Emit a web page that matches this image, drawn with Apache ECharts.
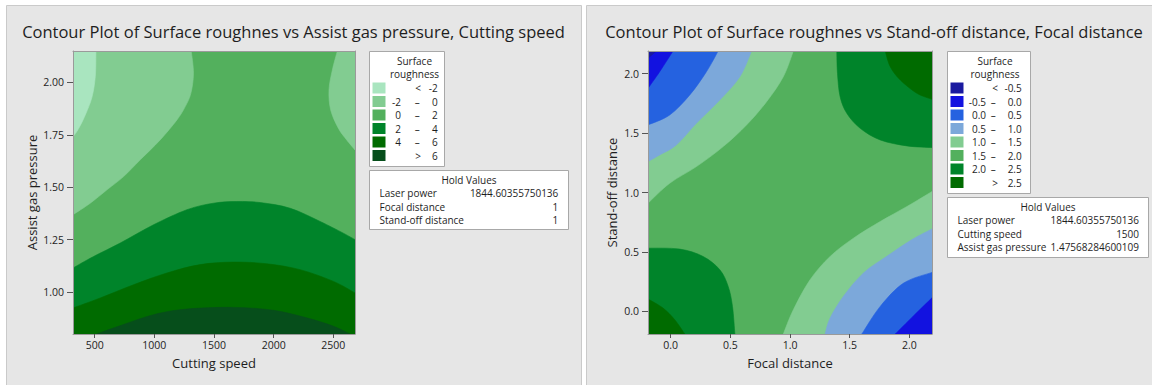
<!DOCTYPE html>
<html><head><meta charset="utf-8">
<script src="https://cdn.jsdelivr.net/npm/echarts@6/dist/echarts.min.js"></script>
<style>html,body{margin:0;padding:0;background:#fff}#c{width:1152px;height:385px}</style>
</head><body><div id="c"></div>
<script>
// ================= DATA =================
const leftXRange = [318, 2682];     // Cutting speed
const leftYRange = [0.80, 2.15];    // Assist gas pressure
const rightXRange = [-0.19, 2.19];  // Focal distance
const rightYRange = [-0.19, 2.19];  // Stand-off distance

const cuttingSpeedTicks = [500, 1000, 1500, 2000, 2500];
const assistGasTicks = [1.00, 1.25, 1.50, 1.75, 2.00];
const focalTicks = [0.0, 0.5, 1.0, 1.5, 2.0];
const standoffTicks = [0.0, 0.5, 1.0, 1.5, 2.0];

const leftLevels = [[null, -2], [-2, 0], [0, 2], [2, 4], [4, 6], [6, null]];
const rightLevels = [[null, -0.5], [-0.5, 0.0], [0.0, 0.5], [0.5, 1.0], [1.0, 1.5], [1.5, 2.0], [2.0, 2.5], [2.5, null]];

const leftHold = [['Laser power', '1844.60355750136'], ['Focal distance', '1'], ['Stand-off distance', '1']];
const rightHold = [['Laser power', '1844.60355750136'], ['Cutting speed', '1500'], ['Assist gas pressure', '1.47568284600109']];

// Left plot contour boundaries [cutting speed, assist gas pressure]
const L_m2_topLeft = [[510, 2.15], [505, 2.03], [477, 1.93], [421, 1.845], [365, 1.78], [318, 1.74]];
const L_0_topLeft = [[1309, 2.15], [1328, 2.044], [1306, 1.948], [1259, 1.885], [1189, 1.821], [1049, 1.726], [882, 1.631], [742, 1.551], [603, 1.488], [463, 1.424], [318, 1.369]];
const L_0_topRight = [[2534, 2.15], [2492, 2.059], [2464, 1.964], [2478, 1.869], [2542, 1.782], [2612, 1.726], [2682, 1.678]];
const L_2 = [[318, 1.115], [491, 1.170], [714, 1.234], [993, 1.321], [1273, 1.393], [1496, 1.424], [1691, 1.432], [1887, 1.427], [2138, 1.400], [2389, 1.337], [2584, 1.281], [2682, 1.250]];
const L_4 = [[318, 0.924], [547, 0.972], [826, 1.035], [1105, 1.091], [1384, 1.131], [1663, 1.143], [1942, 1.135], [2221, 1.107], [2501, 1.051], [2682, 0.996]];
const L_6 = [[519, 0.80], [686, 0.834], [993, 0.892], [1273, 0.919], [1663, 0.927], [1998, 0.913], [2277, 0.877], [2501, 0.837], [2640, 0.80]];

// Right plot contour boundaries [focal distance, stand-off distance]
const R_m05_tl = [[-0.12, 2.19], [-0.19, 2.128]];
const R_00_tl = [[0.02, 2.19], [-0.092, 2.016], [-0.19, 1.876]];
const R_05_tl = [[0.398, 2.19], [0.30, 2.016], [0.16, 1.820], [-0.008, 1.652], [-0.19, 1.568]];
const R_10_tl = [[0.678, 2.19], [0.58, 1.974], [0.412, 1.778], [0.216, 1.582], [0.048, 1.400], [-0.092, 1.316], [-0.19, 1.26]];
const R_15_tl = [[1.028, 2.19], [0.944, 1.974], [0.804, 1.764], [0.636, 1.568], [0.44, 1.386], [0.216, 1.218], [-0.008, 1.078], [-0.19, 0.91]];
const R_20_tr = [[1.392, 2.19], [1.398, 2.002], [1.42, 1.806], [1.476, 1.666], [1.588, 1.54], [1.756, 1.442], [1.98, 1.392], [2.19, 1.378]];
const R_25_tr = [[1.798, 2.19], [1.84, 2.058], [1.924, 1.946], [2.064, 1.834], [2.19, 1.784]];
const R_20_bl = [[-0.19, 0.532], [0.076, 0.524], [0.272, 0.462], [0.412, 0.35], [0.482, 0.21], [0.518, 0.042], [0.538, -0.19]];
const R_25_bl = [[-0.19, 0.104], [-0.064, 0.028], [0.034, -0.07], [0.118, -0.19]];
const R_15_br = [[0.944, -0.19], [1.028, 0.014], [1.168, 0.266], [1.336, 0.462], [1.532, 0.616], [1.756, 0.756], [1.98, 0.882], [2.19, 1.008]];
const R_10_br = [[1.294, -0.19], [1.336, -0.056], [1.448, 0.128], [1.616, 0.324], [1.812, 0.464], [2.022, 0.604], [2.19, 0.694]];
const R_05_br = [[1.602, -0.19], [1.756, 0.042], [1.952, 0.238], [2.19, 0.328]];
const R_00_br = [[1.882, -0.19], [2.036, -0.036], [2.19, 0.114]];

// ================= STYLE =================
const leftColors = ['#a9e5bf', '#82cc91', '#53b05d', '#00842a', '#006b00', '#064e1b'];
const rightColors = ['#1a1aa0', '#1212e0', '#2562e0', '#7ca8da', '#82cc91', '#53b05d', '#00842a', '#006b00'];
const FONT = 'Open Sans';
const TXT = '#1e1e1e';

function corners(xr, yr) {
  return { tl: [xr[0], yr[1]], tr: [xr[1], yr[1]], bl: [xr[0], yr[0]], br: [xr[1], yr[0]] };
}
const lc = corners(leftXRange, leftYRange);
const rc = corners(rightXRange, rightYRange);

const leftRegions = [
  { band: 2, line: [lc.bl, lc.br, lc.tr, lc.tl], straight: true },
  { band: 1, line: L_0_topLeft, close: [lc.tl] },
  { band: 0, line: L_m2_topLeft, close: [lc.tl] },
  { band: 1, line: L_0_topRight, close: [lc.tr] },
  { band: 3, line: L_2, close: [lc.br, lc.bl] },
  { band: 4, line: L_4, close: [lc.br, lc.bl] },
  { band: 5, line: L_6, close: [] }
];
const rightRegions = [
  { band: 5, line: [rc.bl, rc.br, rc.tr, rc.tl], straight: true },
  { band: 4, line: R_15_tl, close: [rc.tl] },
  { band: 3, line: R_10_tl, close: [rc.tl] },
  { band: 2, line: R_05_tl, close: [rc.tl] },
  { band: 1, line: R_00_tl, close: [rc.tl] },
  { band: 0, line: R_m05_tl, close: [rc.tl] },
  { band: 6, line: R_20_tr, close: [rc.tr] },
  { band: 7, line: R_25_tr, close: [rc.tr] },
  { band: 6, line: R_20_bl, close: [rc.bl] },
  { band: 7, line: R_25_bl, close: [rc.bl] },
  { band: 4, line: R_15_br, close: [rc.br] },
  { band: 3, line: R_10_br, close: [rc.br] },
  { band: 2, line: R_05_br, close: [rc.br] },
  { band: 1, line: R_00_br, close: [rc.br] }
];

// smooth (Catmull-Rom -> Bezier) path through mapped boundary points, then straight to corners
function smoothPath(pts, closePts, straight) {
  const f = p => p[0].toFixed(2) + ',' + p[1].toFixed(2);
  let d = 'M' + f(pts[0]);
  for (let i = 0; i < pts.length - 1; i++) {
    if (straight) { d += 'L' + f(pts[i + 1]); continue; }
    const p0 = pts[i - 1] || pts[i], p1 = pts[i], p2 = pts[i + 1], p3 = pts[i + 2] || pts[i + 1];
    const c1 = [p1[0] + (p2[0] - p0[0]) / 6, p1[1] + (p2[1] - p0[1]) / 6];
    const c2 = [p2[0] - (p3[0] - p1[0]) / 6, p2[1] - (p3[1] - p1[1]) / 6];
    d += 'C' + f(c1) + ' ' + f(c2) + ' ' + f(p2);
  }
  closePts.forEach(p => { d += 'L' + f(p); });
  return d + 'Z';
}

function contourSeries(regions, colors, axisIdx) {
  return {
    type: 'custom', xAxisIndex: axisIdx, yAxisIndex: axisIdx, clip: true, silent: true,
    data: regions.map((r, i) => [r.line[0][0], r.line[0][1], i]),
    encode: { x: 0, y: 1 },
    renderItem: function (params, api) {
      const r = regions[params.dataIndex];
      const pts = r.line.map(p => api.coord(p));
      const cl = (r.close || []).map(p => api.coord(p));
      const c = colors[r.band];
      return { type: 'path', shape: { pathData: smoothPath(pts, cl, r.straight) },
        style: { fill: c, stroke: c, lineWidth: 0.6 } };
    }
  };
}

const axisCol = '#9a9a9a';
function bottomAxis(grid, range, ticks, digits, name, gap) {
  return {
    type: 'value', gridIndex: grid, position: 'bottom', min: range[0], max: range[1], z: 10,
    name: name, nameLocation: 'middle', nameGap: gap,
    nameTextStyle: { fontFamily: FONT, fontSize: 13, color: TXT },
    axisLine: { show: true, onZero: false, lineStyle: { color: axisCol, width: 1 } },
    axisTick: { show: true, length: 4, customValues: ticks, lineStyle: { color: '#555' } },
    axisLabel: { show: true, customValues: ticks, margin: 5, fontFamily: FONT, fontSize: 10.5, color: TXT,
      formatter: v => Number(v).toFixed(digits) },
    splitLine: { show: false }
  };
}
function leftAxis(grid, range, ticks, digits, name, gap) {
  return {
    type: 'value', gridIndex: grid, position: 'left', min: range[0], max: range[1], z: 10,
    name: name, nameLocation: 'middle', nameGap: gap,
    nameTextStyle: { fontFamily: FONT, fontSize: 13, color: TXT },
    axisLine: { show: true, onZero: false, lineStyle: { color: axisCol, width: 1 } },
    axisTick: { show: true, length: 6, customValues: ticks, lineStyle: { color: '#555' } },
    axisLabel: { show: true, customValues: ticks, margin: 9, fontFamily: FONT, fontSize: 10.5, color: TXT,
      formatter: v => Number(v).toFixed(digits) },
    splitLine: { show: false }
  };
}
function frameAxis(grid, range, pos) {
  return {
    type: 'value', gridIndex: grid, position: pos, min: range[0], max: range[1], z: 10,
    axisLine: { show: true, onZero: false, lineStyle: { color: axisCol, width: 1 } },
    axisTick: { show: false }, axisLabel: { show: false }, splitLine: { show: false }
  };
}

// ---------- graphics (panels, titles, legends) ----------
const G = [];
function txt(x, y, s, align, size, extra) {
  G.push(Object.assign({ type: 'text', x: x, y: y, z: 50,
    style: { text: s, fontFamily: FONT, fontSize: size || 10, fill: TXT, align: align || 'left', verticalAlign: 'middle' } }, extra || {}));
}
function rect(x, y, w, h, fill, stroke, z) {
  G.push({ type: 'rect', z: z, shape: { x: x, y: y, width: w, height: h }, style: { fill: fill, stroke: stroke, lineWidth: 1 } });
}
rect(6.5, 5.5, 575, 400, '#e6e6e6', '#cacaca', -100);
rect(586.5, 5.5, 600, 400, '#e6e6e6', '#cacaca', -100);
txt(293.5, 31, 'Contour Plot of Surface roughnes vs Assist gas pressure, Cutting speed', 'center', 16.5);
txt(874, 31, 'Contour Plot of Surface roughnes vs Stand-off distance, Focal distance', 'center', 16.5);

function fmtLevel(v, digits) { return v < 0 ? '-' + Math.abs(v).toFixed(digits) : v.toFixed(digits); }
function legend(box, levels, colors, digits, cols) {
  rect(box.x, box.y, box.w, box.h, '#ffffff', '#a8a8a8', 40);
  txt(cols.center, box.y + 9.5, 'Surface', 'center', 10);
  txt(cols.center, box.y + 22.8, 'roughness', 'center', 10);
  levels.forEach((lv, i) => {
    const y = box.y + 36.5 + i * 13.5;
    G.push({ type: 'rect', z: 45, shape: { x: box.x + 3, y: y - 5.5, width: 13, height: 11 }, style: { fill: colors[i] } });
    if (lv[0] === null) {
      txt(cols.sym, y, '<', 'center', 10);
      txt(cols.hi, y, fmtLevel(lv[1], digits), 'right', 10);
    } else if (lv[1] === null) {
      txt(cols.sym, y, '>', 'center', 10);
      txt(cols.hi, y, fmtLevel(lv[0], digits), 'right', 10);
    } else {
      txt(cols.lo, y, fmtLevel(lv[0], digits), 'right', 10);
      txt(cols.dash, y, '\u2013', 'center', 10);
      txt(cols.hi, y, fmtLevel(lv[1], digits), 'right', 10);
    }
  });
}
function holdBox(box, rows, valX) {
  rect(box.x, box.y, box.w, box.h, '#ffffff', '#a8a8a8', 40);
  txt(box.x + box.w / 2, box.y + 9.5, 'Hold Values', 'center', 10);
  rows.forEach((r, i) => {
    const y = box.y + 22.3 + i * 13.8;
    txt(box.x + 10, y, r[0], 'left', 10);
    txt(valX, y, r[1], 'right', 10);
  });
}
legend({ x: 369.5, y: 51.5, w: 75, h: 115 }, leftLevels, leftColors, 0, { center: 414.5, sym: 418, lo: 401, dash: 417.3, hi: 437.7 });
holdBox({ x: 369.5, y: 170.5, w: 199, h: 59 }, leftHold, 558.3);
legend({ x: 947.5, y: 51.5, w: 83, h: 142 }, rightLevels, rightColors, 1, { center: 995, sym: 995, lo: 986, dash: 993.3, hi: 1021.7 });
holdBox({ x: 947.5, y: 197.5, w: 201, h: 60 }, rightHold, 1139);

const chart = echarts.init(document.getElementById('c'), null, { renderer: 'svg' });
chart.setOption({
  backgroundColor: '#ffffff',
  animation: false,
  grid: [
    { left: 73, top: 51, width: 282, height: 283, containLabel: false },
    { left: 648, top: 51, width: 284, height: 283, containLabel: false }
  ],
  xAxis: [
    bottomAxis(0, leftXRange, cuttingSpeedTicks, 0, 'Cutting speed', 22),
    bottomAxis(1, rightXRange, focalTicks, 1, 'Focal distance', 22),
    frameAxis(0, leftXRange, 'top'),
    frameAxis(1, rightXRange, 'top')
  ],
  yAxis: [
    leftAxis(0, leftYRange, assistGasTicks, 2, 'Assist gas pressure', 35),
    leftAxis(1, rightYRange, standoffTicks, 1, 'Stand-off distance', 30),
    frameAxis(0, leftYRange, 'right'),
    frameAxis(1, rightYRange, 'right')
  ],
  series: [
    contourSeries(leftRegions, leftColors, 0),
    contourSeries(rightRegions, rightColors, 1)
  ],
  graphic: G
});
</script>
</body></html>
